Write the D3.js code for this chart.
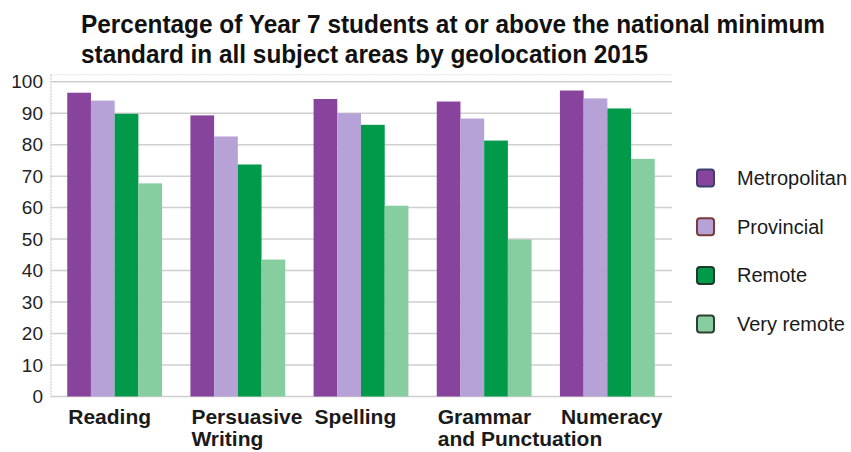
<!DOCTYPE html>
<html>
<head>
<meta charset="utf-8">
<script src="https://cdn.jsdelivr.net/npm/d3@7"></script>
<style>
  body { margin: 0; background: #fff; }
  svg { display: block; font-family: "Liberation Sans", Arial, sans-serif; }
</style>
</head>
<body>
<div id="chart"></div>
<script>
// data
const subjects = ["Reading", "Persuasive Writing", "Spelling", "Grammar and Punctuation", "Numeracy"];
const subjectLines = [["Reading"], ["Persuasive", "Writing"], ["Spelling"], ["Grammar", "and Punctuation"], ["Numeracy"]];
const geolocations = ["Metropolitan", "Provincial", "Remote", "Very remote"];
const metropolitan = [96.5, 89.3, 94.5, 93.7, 97.2];
const provincial = [94.0, 82.6, 90.0, 88.3, 94.7];
const remote = [89.8, 73.7, 86.3, 81.3, 91.5];
const veryRemote = [67.7, 43.5, 60.6, 49.9, 75.5];
const yTicks = [0, 10, 20, 30, 40, 50, 60, 70, 80, 90, 100];
const titleLines = [
  "Percentage of Year 7 students at or above the national minimum",
  "standard in all subject areas by geolocation 2015"
];

const series = [metropolitan, provincial, remote, veryRemote];
const colors = ["#88449c", "#b6a2d6", "#009a4a", "#86cd9f"];
const borderColors = ["#3b3f6e", "#7a3a3a", "#1f3a28", "#2f3f34"];

const W = 851, H = 452;
const svg = d3.select("#chart").append("svg")
  .attr("width", W)
  .attr("height", H);

svg.append("rect").attr("width", W).attr("height", H).attr("fill", "#fff");

// Tiêu đề
svg.append("g").selectAll("text")
  .data(titleLines)
  .enter()
  .append("text")
  .attr("x", 81)
  .attr("y", (d, i) => 33 + i * 30)
  .attr("textLength", (d, i) => i === 0 ? 744 : 567)
  .attr("lengthAdjust", "spacingAndGlyphs")
  .style("font-size", "25px")
  .style("font-weight", "bold")
  .style("fill", "#111")
  .text(d => d);

const plot = { left: 50, right: 672, top: 81.7, bottom: 396.5 };

const x0 = d3.scaleBand()
  .domain(subjects)
  .range([plot.left, plot.right])
  .paddingInner(0.23)
  .paddingOuter(0.14);

const x1 = d3.scaleBand()
  .domain(geolocations)
  .range([0, x0.bandwidth()]);

const y = d3.scaleLinear()
  .domain([0, 100])
  .range([plot.bottom, plot.top]);

// khung + lưới
svg.append("line")
  .attr("x1", plot.left).attr("x2", plot.right)
  .attr("y1", plot.top - 7).attr("y2", plot.top - 7)
  .attr("stroke", "#e2e2e2")
  .attr("stroke-dasharray", "2,1");

svg.append("g").selectAll("line")
  .data(yTicks)
  .enter()
  .append("line")
  .attr("x1", plot.left).attr("x2", plot.right)
  .attr("y1", d => y(d)).attr("y2", d => y(d))
  .attr("stroke", "#cfcfcf")
  .attr("stroke-width", 1.5);

svg.append("line")
  .attr("x1", plot.left + 1).attr("x2", plot.left + 1)
  .attr("y1", plot.top - 7).attr("y2", plot.bottom)
  .attr("stroke", "#d6d6d6")
  .attr("stroke-width", 1.5)
  .attr("stroke-dasharray", "2,1");

// nhãn trục y
svg.append("g").selectAll("text")
  .data(yTicks)
  .enter()
  .append("text")
  .attr("x", 43)
  .attr("y", d => y(d))
  .attr("dy", "0.35em")
  .attr("text-anchor", "end")
  .style("font-size", "19px")
  .style("fill", "#222")
  .text(d => d);

// cột
const groups = svg.append("g").selectAll("g")
  .data(subjects)
  .enter()
  .append("g")
  .attr("transform", d => `translate(${x0(d)},0)`);

groups.selectAll("rect")
  .data((d, i) => geolocations.map((g, j) => ({ key: g, value: series[j][i], color: colors[j] })))
  .enter()
  .append("rect")
  .attr("x", d => x1(d.key))
  .attr("y", d => y(d.value))
  .attr("width", x1.bandwidth())
  .attr("height", d => y(0) - y(d.value))
  .attr("fill", d => d.color);

// nhãn trục x
const xl = svg.append("g").selectAll("text")
  .data(subjects)
  .enter()
  .append("text")
  .attr("x", d => x0(d) + 1)
  .attr("y", 424)
  .style("font-size", "21px")
  .style("font-weight", "bold")
  .style("fill", "#1a1a1a");

xl.selectAll("tspan")
  .data((d, i) => subjectLines[i])
  .enter()
  .append("tspan")
  .attr("x", function() { return this.parentNode.getAttribute("x"); })
  .attr("dy", (d, i) => i === 0 ? 0 : 22)
  .text(d => d);

// Legend
const leg = svg.append("g").selectAll("g")
  .data(geolocations)
  .enter()
  .append("g")
  .attr("transform", (d, i) => `translate(697, ${178 + i * 48.7})`);

leg.append("rect")
  .attr("x", 0).attr("y", -8.5)
  .attr("width", 17).attr("height", 17)
  .attr("rx", 3)
  .attr("fill", (d, i) => colors[i])
  .attr("stroke", (d, i) => borderColors[i])
  .attr("stroke-width", 2);

leg.append("text")
  .attr("x", 40)
  .attr("y", 0)
  .attr("dy", "0.35em")
  .style("font-size", "20px")
  .style("fill", "#1a1a1a")
  .text(d => d);
</script>
</body>
</html>
